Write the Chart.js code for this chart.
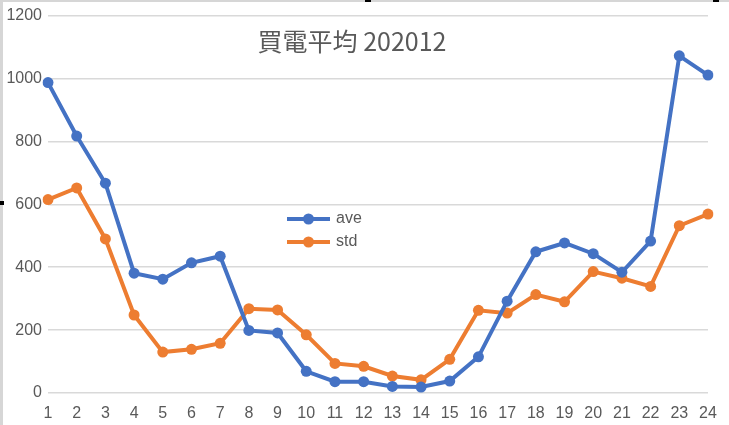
<!DOCTYPE html>
<html>
<head>
<meta charset="utf-8">
<script src="https://cdn.jsdelivr.net/npm/chart.js@4/dist/chart.umd.min.js"></script>
<style>
  html, body { margin: 0; padding: 0; background: #fff; }
  #wrap { position: relative; width: 729px; height: 425px; overflow: hidden; }
  canvas { position: absolute; left: 0; top: 0; }
  .edge { position: absolute; background: #d6d6d6; }
  .handle { position: absolute; background: #000; }
</style>
</head>
<body>
<div id="wrap">
  <canvas id="c" width="729" height="425"></canvas>
  <div class="edge" style="left:0;top:0;width:3px;height:425px;"></div>
  <div class="edge" style="left:0;top:0;width:729px;height:2px;"></div>
  <div class="handle" style="left:0;top:201px;width:4px;height:4px;"></div>
  <div class="handle" style="left:365px;top:0;width:6px;height:2px;"></div>
  <div class="handle" style="left:713px;top:0;width:6px;height:2px;"></div>
</div>
<script>
const titleText = '買電平均 202012';
const categories = ['1','2','3','4','5','6','7','8','9','10','11','12','13','14','15','16','17','18','19','20','21','22','23','24'];
const aveValues = [987, 817, 667, 381, 362, 414, 435, 199, 191, 69, 36, 36, 21, 19, 38, 115, 292, 449, 477, 443, 384, 483, 1072, 1011];
const stdValues = [615, 652, 490, 248, 130, 139, 158, 268, 264, 185, 94, 85, 54, 42, 107, 263, 254, 313, 290, 386, 365, 339, 532, 569];
const yTicks = [0, 200, 400, 600, 800, 1000, 1200];

const BLUE = '#4472C4';
const ORANGE = '#ED7D31';
const TEXT = '#595959';
const FONT = "'Liberation Sans', Arial, sans-serif";

const overlayPlugin = {
  id: 'overlay',
  afterDraw(chart) {
    const ctx = chart.ctx;
    ctx.save();
    // title
    ctx.fillStyle = TEXT;
    ctx.font = "25px 'Noto Sans CJK TC', 'Noto Sans CJK JP', sans-serif";
    ctx.textAlign = 'center';
    ctx.textBaseline = 'middle';
    ctx.fillText(titleText, 352, 41);
    // legend
    const items = chart.data.datasets;
    const x0 = 287, x1 = 330, ys = [219, 242];
    items.forEach((ds, i) => {
      const y = ys[i];
      ctx.strokeStyle = ds.borderColor;
      ctx.lineWidth = 4;
      ctx.lineCap = 'butt';
      ctx.beginPath();
      ctx.moveTo(x0, y);
      ctx.lineTo(x1, y);
      ctx.stroke();
      ctx.fillStyle = ds.borderColor;
      ctx.beginPath();
      ctx.arc((x0 + x1) / 2, y, 5.5, 0, Math.PI * 2);
      ctx.fill();
      ctx.fillStyle = TEXT;
      ctx.font = '16px ' + FONT;
      ctx.textAlign = 'left';
      ctx.textBaseline = 'middle';
      ctx.fillText(ds.label, 336, y);
    });
    ctx.restore();
  }
};

new Chart(document.getElementById('c'), {
  type: 'line',
  data: {
    labels: categories,
    datasets: [
      { label: 'ave', data: aveValues, borderColor: BLUE, backgroundColor: BLUE,
        borderWidth: 4, pointRadius: 5.5, pointBackgroundColor: BLUE, pointBorderWidth: 0, tension: 0 },
      { label: 'std', data: stdValues, borderColor: ORANGE, backgroundColor: ORANGE,
        borderWidth: 4, pointRadius: 5.5, pointBackgroundColor: ORANGE, pointBorderWidth: 0, tension: 0 }
    ]
  },
  options: {
    responsive: false,
    animation: false,
    devicePixelRatio: 1,
    layout: { padding: { top: 10, right: 21, left: 0, bottom: 0 } },
    plugins: { legend: { display: false }, title: { display: false }, tooltip: { enabled: false } },
    scales: {
      x: {
        offset: false,
        grid: { display: false, drawTicks: false },
        border: { display: false },
        ticks: { color: TEXT, font: { family: FONT, size: 16 }, padding: 11, maxRotation: 0, autoSkip: false },
        afterFit(axis) { axis.height = 32; }
      },
      y: {
        min: 0, max: 1200,
        afterBuildTicks(axis) { axis.ticks = yTicks.map(v => ({ value: v })); },
        grid: { color: '#d9d9d9', lineWidth: 1.5, drawTicks: false },
        border: { display: false },
        ticks: { color: TEXT, font: { family: FONT, size: 16 }, padding: 6, callback: v => String(v) },
        afterFit(axis) { axis.width = 48; }
      }
    }
  },
  plugins: [overlayPlugin]
});
</script>
</body>
</html>
